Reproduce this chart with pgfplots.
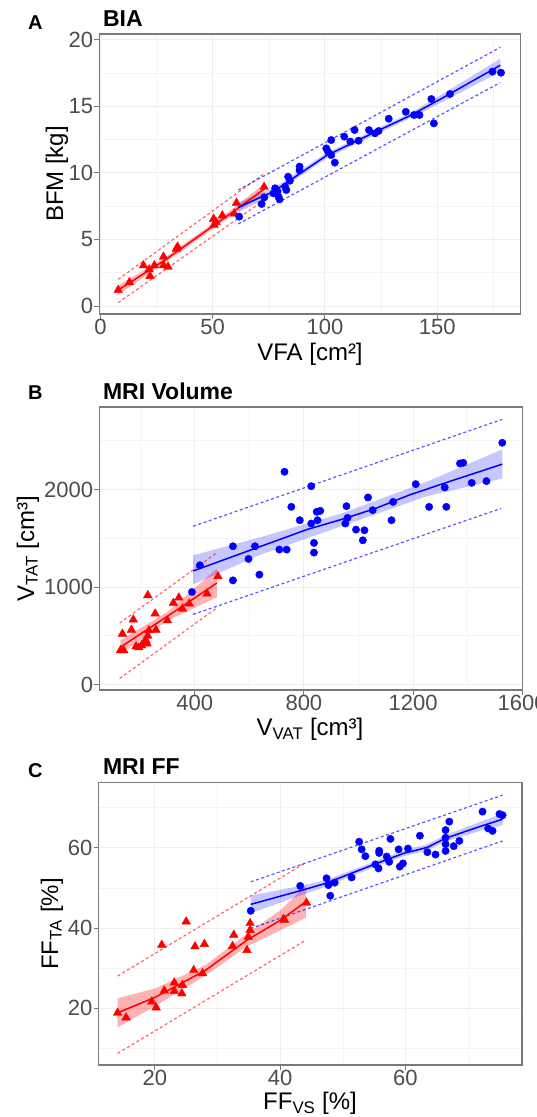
\documentclass[border=0pt]{standalone}
\usepackage{fontspec}
\setmainfont{Liberation Sans}
\usepackage{pgfplots}
\pgfplotsset{compat=1.18}
\definecolor{tickgray}{HTML}{4D4D4D}
\definecolor{bordergray}{HTML}{7A7A7A}
\pgfplotsset{
  panel/.style={
    scale only axis,
    anchor=north west,
    tick align=outside,
    tick pos=left,
    major tick length=5pt,
    minor tick length=0pt,
    grid=both,
    major grid style={draw=gray!14, line width=1pt},
    minor grid style={draw=gray!9, line width=0.6pt},
    axis line style={draw=bordergray, line width=1.1pt},
    tick style={draw=bordergray, line width=1pt},
    tick label style={font=\fontsize{22}{22}\selectfont, text=tickgray, inner sep=1pt},
    xticklabel style={yshift=1pt},
    /pgf/number format/assume math mode=true,
    /pgf/number format/1000 sep={},
  },
  tri/.style={only marks, mark=triangle*, mark size=5pt, color=red, mark options={fill=red, draw=red}},
  dot/.style={only marks, mark=*, mark size=3.7pt, color=blue, mark options={fill=blue, draw=blue}},
  fitr/.style={red, line width=1.5pt, no marks},
  fitb/.style={blue, line width=1.5pt, no marks},
  ribr/.style={fill=red, fill opacity=0.3, draw=none, no marks},
  ribb/.style={fill=blue, fill opacity=0.22, draw=none, no marks},
  pir/.style={red, opacity=0.6, line width=1.2pt, dash pattern=on 3pt off 2.5pt, no marks},
  pib/.style={blue, opacity=0.65, line width=1.2pt, dash pattern=on 3pt off 2.5pt, no marks},
}
\newcommand{\tfont}{\fontsize{23}{23}\selectfont\bfseries}
\newcommand{\lfont}{\fontsize{20}{20}\selectfont\bfseries}
\newcommand{\afont}{\fontsize{24}{24}\selectfont}
\begin{document}
\begin{tikzpicture}
% ---------------- Panel A ----------------
\begin{axis}[panel, at={(99.3pt,1083pt)}, width=421pt, height=280pt,
  xmin=-0.5, xmax=187, ymin=-0.6, ymax=20.45,
  xtick={0,50,100,150}, minor xtick={25,75,125,175},
  ytick={0,5,10,15,20}, minor ytick={2.5,7.5,12.5,17.5}]
\addplot[ribr] coordinates {(7.9,1.55) (20,2.75) (30,3.8) (40,5.0) (50,6.2) (60,7.45) (73,9.2)
  (73,8.4) (60,7.0) (50,5.8) (40,4.6) (30,3.4) (20,2.25) (7.9,0.85)} -- cycle;
\addplot[ribb] coordinates {(61.4,7.8) (77,8.85) (89,10.2) (100.6,11.5) (122.6,13.3) (137.8,14.5) (153,16.0) (178.1,18.6)
  (178.1,17.6) (153,15.4) (137.8,14.1) (122.6,12.9) (100.6,11.1) (89,9.75) (77,8.35) (61.4,7.05)} -- cycle;
\addplot[pir] coordinates {(7.9,2.0) (73,9.97)};
\addplot[pir] coordinates {(7.9,0.25) (73,7.97)};
\addplot[pib] coordinates {(61.4,8.72) (178.1,19.45)};
\addplot[pib] coordinates {(61.4,6.17) (178.1,16.8)};
\addplot[fitr] coordinates {(7.9,1.2) (20,2.5) (30,3.6) (40,4.8) (50,6.0) (60,7.2) (73,8.8)};
\addplot[fitb] coordinates {(61.4,7.42) (77,8.6) (89,9.97) (100.6,11.3) (122.6,13.1) (137.8,14.3) (153,15.7) (178.1,18.1)};
\addplot[tri] coordinates {(7.9,1.2) (12.9,1.78) (19.2,3.05) (21.7,2.75) (22.1,2.25) (24.0,3.05) (28.1,3.7)
  (28.1,3.05) (30.1,2.95) (33.8,4.3) (34.4,4.45) (50.4,6.55) (50.6,6.1) (51.5,6.3) (54.3,6.8)
  (59.6,6.95) (60.6,7.75) (72.9,8.95)};
\addplot[dot] coordinates {(61.8,6.72) (71.8,7.67) (73.0,8.17) (77.1,8.47) (77.8,8.85) (78.9,8.6)
  (79.3,8.22) (79.8,8.02) (82.3,8.97) (82.8,8.72) (83.6,9.72) (84.4,9.42) (88.7,10.48) (88.7,10.2)
  (100.6,11.85) (101.4,11.6) (102.8,12.48) (102.8,11.35) (104.4,10.78) (108.6,12.73) (111.3,12.36)
  (113.2,13.23) (115.0,12.43) (119.6,13.23) (122.3,12.98) (123.9,13.16) (128.4,14.08) (136.0,14.6)
  (139.7,14.36) (142.1,14.36) (147.4,15.56) (148.5,13.73) (155.7,15.94) (174.6,17.62) (178.4,17.54)};
\end{axis}
\node[anchor=base west, font=\lfont] at (24.5pt,1087pt) {A};
\node[anchor=base west, font=\tfont] at (99.5pt,1090.5pt) {BIA};
\node[anchor=base, font=\afont] at (310pt,756pt) {VFA [cm²]};
\node[anchor=base, rotate=90, font=\afont] at (63pt,943pt) {BFM [kg]};
% ---------------- Panel B ----------------
\begin{axis}[panel, at={(99.2pt,710pt)}, width=423pt, height=283pt,
  xmin=50, xmax=1600, ymin=-56, ymax=2846,
  xtick={400,800,1200,1600}, minor xtick={200,600,1000,1400},
  ytick={0,1000,2000}, minor ytick={500,1500,2500}]
\addplot[ribr] coordinates {(128,454) (300,745) (481,1188) (481,894) (300,655) (128,314)} -- cycle;
\addplot[ribb] coordinates {(394,1325) (640,1510) (937,1753) (1250,2080) (1527,2411)
  (1527,2113) (1250,1930) (937,1623) (640,1330) (394,1027)} -- cycle;
\addplot[pir] coordinates {(125,630) (478,1345)};
\addplot[pir] coordinates {(125,62) (478,780)};
\addplot[pib] coordinates {(394,1623) (1527,2719)};
\addplot[pib] coordinates {(394,719) (1522,1805)};
\addplot[fitr] coordinates {(128,384) (300,700) (481,1041)};
\addplot[fitb] coordinates {(394,1164) (640,1415) (812,1590) (937,1692) (1062,1805) (1188,1945) (1312,2062) (1527,2260)};
\addplot[tri] coordinates {(128,350) (140,350) (135,520) (175,665) (168,560) (185,390) (195,380)
  (205,400) (222,450) (225,420) (228,500) (232,555) (228,915) (255,726) (258,560) (300,658)
  (322,836) (342,890) (355,777) (380,829) (445,932) (485,1110) (215,440)};
\addplot[dot] coordinates {(390,949) (419,1223) (540,1418) (540,1068) (597,1288) (621,1418) (637,1127)
  (710,1384) (737,1384) (729,2182) (754,1822) (785,1685) (827,2034) (827,1651) (837,1452) (837,1353)
  (847,1771) (850,1685) (860,1781) (952,1651) (956,1829) (960,1709) (991,1589) (1016,1479)
  (1022,1582) (1035,1918) (1052,1788) (1121,1685) (1127,1873) (1210,2055) (1259,1822) (1316,2021)
  (1322,1822) (1372,2267) (1384,2274) (1415,2068) (1469,2086) (1527,2479)};
\end{axis}
\node[anchor=base west, font=\lfont] at (24.5pt,717pt) {B};
\node[anchor=base west, font=\tfont] at (99.5pt,717pt) {MRI Volume};
\node[anchor=base, font=\afont] at (310pt,381pt) {V\textsubscript{VAT} [cm³]};
\node[anchor=base, rotate=90, font=\afont] at (34pt,568pt) {V\textsubscript{TAT} [cm³]};
% ---------------- Panel C ----------------
\begin{axis}[panel, at={(98.5pt,334.3pt)}, width=423.5pt, height=282.3pt,
  xmin=11, xmax=78.6, ymin=5.9, ymax=76.2,
  xtick={20,40,60}, minor xtick={30,50,70},
  ytick={20,40,60}, minor ytick={10,30,50,70}]
\addplot[ribr] coordinates {(14.05,22.5) (20.1,25.0) (28.1,30.8) (34.7,38.6) (40.1,44.5) (44.1,50.6)
  (44.1,42.6) (40.1,39.5) (34.7,35.4) (28.1,28.2) (20.1,20.6) (14.05,15.3)} -- cycle;
\addplot[ribb] coordinates {(35.3,48.1) (43.2,50.5) (47.2,51.9) (55.4,56.8) (59.7,59.3) (63.5,60.9) (66.3,63.1) (71.7,66.3) (75.5,68.6)
  (75.5,65.6) (71.7,64.1) (66.3,61.5) (63.5,59.3) (59.7,57.9) (55.4,55.4) (47.2,50.3) (43.2,48.1) (35.3,43.7)} -- cycle;
\addplot[pir] coordinates {(14.05,28.05) (44.1,56.3)};
\addplot[pir] coordinates {(14.05,8.8) (44.1,37.0)};
\addplot[pib] coordinates {(35.3,51.5) (75.5,73.1)};
\addplot[pib] coordinates {(35.3,39.9) (75.5,61.7)};
\addplot[fitr] coordinates {(14.05,18.9) (20.1,22.8) (28.1,29.5) (34.7,37.0) (40.1,42.0) (44.1,46.6)};
\addplot[fitb] coordinates {(35.3,45.9) (43.2,49.3) (47.2,51.1) (55.4,56.1) (59.7,58.6) (63.5,60.1) (66.3,62.3) (71.7,65.2) (75.5,67.1)};
\addplot[tri] coordinates {(14.05,18.9) (15.4,17.7) (19.5,21.7) (20.2,20.2) (21.1,35.8) (21.5,24.4)
  (23.1,26.4) (23.1,24.3) (24.4,25.8) (24.3,23.7) (25.0,41.6) (26.2,29.5) (26.4,35.4) (27.9,36.0)
  (27.6,28.7) (32.6,38.3) (32.4,35.5) (34.7,34.5) (34.9,37.8) (35.2,41.2) (35.2,39.5) (40.5,42.2)
  (40.7,42.0) (44.2,46.3)};
\addplot[dot] coordinates {(35.3,44.3) (43.2,50.5) (47.4,52.4) (47.7,50.7) (48.7,51.3) (48.0,48.05)
  (51.4,52.6) (52.6,61.5) (53.0,59.6) (53.6,57.9) (55.2,55.85) (55.7,54.85) (55.8,59.25) (55.8,58.7)
  (57.0,57.8) (57.4,56.5) (57.6,62.2) (58.9,59.6) (59.1,55.3) (59.6,56.1) (60.4,59.8) (62.3,63.0)
  (63.5,58.9) (64.8,58.3) (66.4,64.4) (66.4,62.5) (66.4,60.9) (66.4,59.2) (67.0,66.5) (67.7,60.4)
  (68.6,61.7) (72.3,69.0) (73.2,64.8) (73.9,64.2) (75.0,68.4) (75.5,68.1)};
\end{axis}
\node[anchor=base west, font=\lfont] at (24.5pt,339pt) {C};
\node[anchor=base west, font=\tfont] at (99.5pt,342pt) {MRI FF};
\node[anchor=base, font=\afont] at (310pt,7pt) {FF\textsubscript{VS} [\%]};
\node[anchor=base, rotate=90, font=\afont] at (58pt,193pt) {FF\textsubscript{TA} [\%]};
\pgfresetboundingbox
\path[use as bounding box] (0pt,0pt) rectangle (536pt,1117pt);
\end{tikzpicture}
\end{document}
